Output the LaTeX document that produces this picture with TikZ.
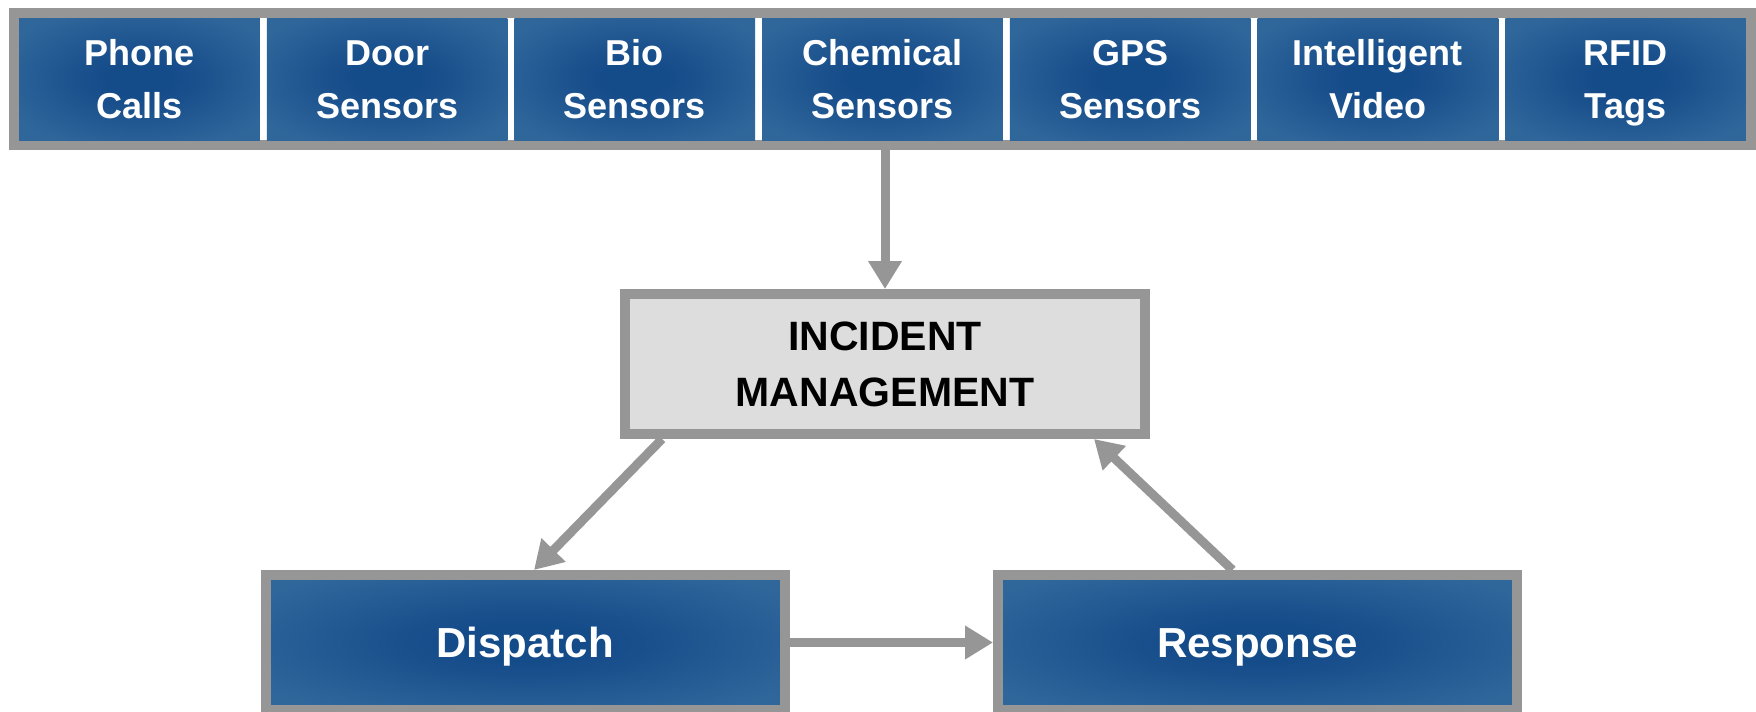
\documentclass[tikz,border=0pt]{standalone}
\usepackage{fontspec}
\setmainfont{Liberation Sans}
\usetikzlibrary{arrows.meta,calc}

\definecolor{framegray}{RGB}{150,150,150}
\definecolor{panelgray}{RGB}{221,221,221}
\definecolor{bluedark}{RGB}{20,75,137}
\definecolor{bluelight}{RGB}{48,103,155}

% dark blue core fading to a lighter blue towards the box edges
\pgfdeclareradialshading{cellglow}{\pgfpoint{0bp}{0bp}}{%
  color(0bp)=(bluedark); color(7bp)=(bluedark);
  color(31bp)=(bluelight); color(50bp)=(bluelight)}

% two centred lines with a fixed height and depth each
\newcommand{\pairlines}[2]{#1\rule[-10pt]{0pt}{46pt}\\#2\rule[-10pt]{0pt}{46pt}}

\begin{document}
\begin{tikzpicture}[x=1pt,y=-1pt,
  source/.style={shade, shading=cellglow, inner sep=0pt,
    minimum width=240.7pt, minimum height=122pt, text=white, align=center,
    font=\bfseries\fontsize{36}{53}\selectfont},
  stagebox/.style={draw=framegray, line width=10pt, shade, shading=cellglow,
    inner sep=0pt, minimum width=519pt, minimum height=135pt, text=white,
    text height=30pt, text depth=0pt,
    font=\bfseries\fontsize{42}{50}\selectfont},
  hub/.style={draw=framegray, line width=10pt, fill=panelgray, inner sep=0pt,
    minimum width=520pt, minimum height=140pt, text=black, align=center,
    font=\bfseries\fontsize{41}{56}\selectfont},
  flow/.style={draw=framegray, line width=9pt,
    -{Triangle[length=28pt,width=32pt]}}
]
\useasboundingbox (0,0) rectangle (1756,712);

% frame holding the input sources
\node[draw=framegray, line width=10pt, fill=white, inner sep=0pt,
      minimum width=1737pt, minimum height=132pt] (strip) at (882.5,79) {};

\node[source] (phone) at (139.4,79)  {\pairlines{Phone}{Calls}};
\node[source] (door)  at (387.1,79)  {\pairlines{Door}{Sensors}};
\node[source] (bio)   at (634.8,79)  {\pairlines{Bio}{Sensors}};
\node[source] (chem)  at (882.5,79)  {\pairlines{Chemical}{Sensors}};
\node[source] (gps)   at (1130.2,79) {\pairlines{GPS}{Sensors}};
\node[source] (video) at (1377.9,79) {\pairlines{Intelligent}{Video}};
\node[source] (rfid)  at (1625.6,79) {\pairlines{RFID}{Tags}};

% central hub and the two stages
\node[hub] (inc) at (885,364) {INCIDENT\\MANAGEMENT};
\node[stagebox] (disp) at (525,642.5)  {Dispatch};
\node[stagebox] (resp) at (1257.5,642.5) {Response};

% connectors
\draw[flow] (inc.north |- strip.south) -- (inc.north);
\draw[flow] ($(inc.south west)+(42,0)$) -- ($(disp.north)+(9,0)$);
\draw[flow] ($(resp.north)+(-25,0)$) -- ($(inc.south east)+(-56,0)$);
\draw[flow] (disp.east) -- (resp.west);
\end{tikzpicture}
\end{document}
